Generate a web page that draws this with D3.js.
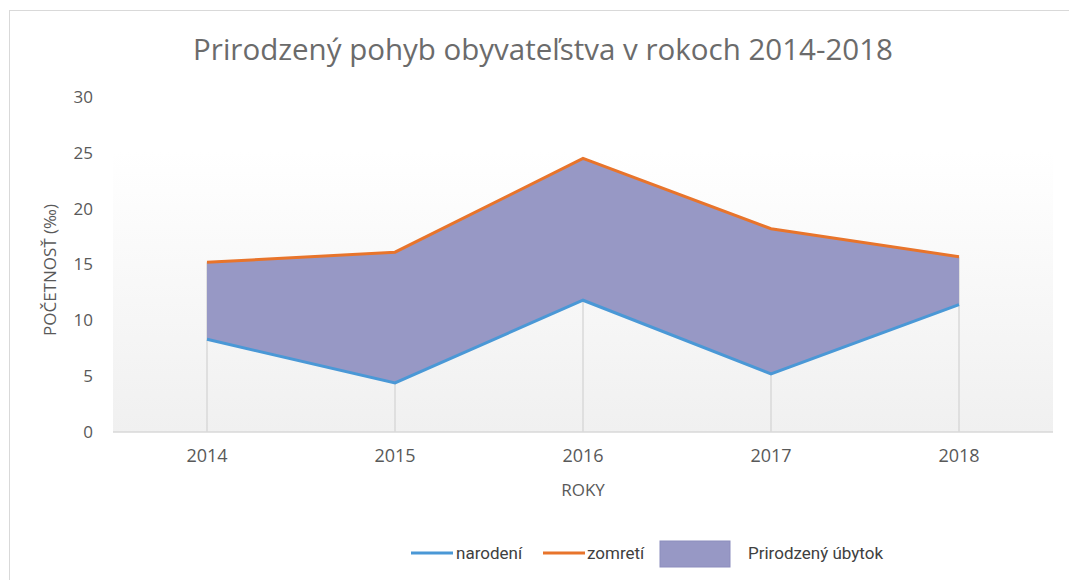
<!DOCTYPE html>
<html>
<head>
<meta charset="utf-8">
<script src="https://cdn.jsdelivr.net/npm/d3@7"></script>
<style>
    body { margin: 0; background: #fff; }
    svg { display: block; }
</style>
</head>
<body>
<svg width="1069" height="580"></svg>
<script>
const years = ["2014", "2015", "2016", "2017", "2018"];
const narodeni = [8.3, 4.4, 11.8, 5.2, 11.4];
const zomreti = [15.2, 16.1, 24.5, 18.2, 15.7];
const yTicks = [0, 5, 10, 15, 20, 25, 30];

const width = 1069;
const height = 580;
const plot = { left: 113, right: 1053, top: 97, bottom: 432 };

const svg = d3.select("svg")
    .attr("width", width)
    .attr("height", height)
    .style("font-family", "'Open Sans', sans-serif");

const data = years.map((y, i) => ({ year: y, n: narodeni[i], z: zomreti[i] }));

const x = d3.scaleBand()
    .domain(years)
    .range([plot.left, plot.right]);

const y = d3.scaleLinear()
    .domain([0, 30])
    .range([plot.bottom, plot.top]);

const cx = d => x(d.year) + x.bandwidth() / 2;

// chart frame
svg.append("rect")
    .attr("x", 9.5).attr("y", 10.5)
    .attr("width", 1080).attr("height", 600)
    .style("fill", "#fff")
    .style("stroke", "#d9d9d9");

// plot background gradient
const grad = svg.append("defs").append("linearGradient")
    .attr("id", "bg").attr("x1", 0).attr("x2", 0).attr("y1", 0).attr("y2", 1);
grad.append("stop").attr("offset", "0%").attr("stop-color", "#ffffff");
grad.append("stop").attr("offset", "100%").attr("stop-color", "#f0f0f0");

svg.append("rect")
    .attr("x", plot.left).attr("y", y(30) + 55)
    .attr("width", plot.right - plot.left)
    .attr("height", plot.bottom - y(30) - 55)
    .style("fill", "url(#bg)");

// drop lines
svg.append("g").selectAll("line")
    .data(data)
    .join("line")
    .attr("x1", cx).attr("x2", cx)
    .attr("y1", y(0)).attr("y2", d => y(d.z))
    .style("stroke", "#d9d9d9")
    .style("stroke-width", 1.5);

// area between births and deaths
const area = d3.area()
    .x(cx)
    .y0(d => y(d.n))
    .y1(d => y(d.z));

svg.append("path")
    .datum(data)
    .attr("d", area)
    .style("fill", "#9798c5");

// bottom axis line
svg.append("line")
    .attr("x1", plot.left).attr("x2", plot.right)
    .attr("y1", y(0)).attr("y2", y(0))
    .style("stroke", "#d9d9d9")
    .style("stroke-width", 1.5);

const lineN = d3.line().x(cx).y(d => y(d.n));
const lineZ = d3.line().x(cx).y(d => y(d.z));

svg.append("path")
    .datum(data)
    .attr("d", lineN)
    .style("fill", "none")
    .style("stroke", "#4a98d6")
    .style("stroke-width", 3);

svg.append("path")
    .datum(data)
    .attr("d", lineZ)
    .style("fill", "none")
    .style("stroke", "#e8742b")
    .style("stroke-width", 3);

// y axis labels
const yAxis = svg.append("g")
    .attr("transform", `translate(${plot.left - 20},0)`)
    .call(d3.axisLeft(y).tickValues(yTicks).tickSize(0).tickPadding(0));
yAxis.select(".domain").remove();
yAxis.selectAll("text")
    .style("font-size", "17px")
    .style("font-family", "'Open Sans', sans-serif")
    .style("fill", "#595959");

// x axis labels
const xAxis = svg.append("g")
    .attr("transform", `translate(0,${plot.bottom + 17})`)
    .call(d3.axisBottom(x).tickSize(0).tickPadding(0));
xAxis.select(".domain").remove();
xAxis.selectAll("text")
    .style("font-size", "18px")
    .style("font-family", "'Open Sans', sans-serif")
    .style("fill", "#595959");

// titles
svg.append("text")
    .text("Prirodzený pohyb obyvateľstva v rokoch 2014-2018")
    .attr("x", 543).attr("y", 60)
    .attr("text-anchor", "middle")
    .style("font-size", "29.5px")
    .style("fill", "#6b6b6b");

svg.append("text")
    .text("ROKY")
    .attr("x", (plot.left + plot.right) / 2).attr("y", 496)
    .attr("text-anchor", "middle")
    .style("font-size", "17px")
    .style("fill", "#595959");

svg.append("text")
    .text("POČETNOSŤ (‰)")
    .attr("transform", "translate(56,270) rotate(-90)")
    .attr("text-anchor", "middle")
    .style("font-size", "17px")
    .style("fill", "#595959");

// legend
const legend = svg.append("g").style("font-family", "Roboto, sans-serif");
legend.append("line").attr("x1", 411).attr("x2", 453).attr("y1", 553).attr("y2", 553)
    .style("stroke", "#4a98d6").style("stroke-width", 3);
legend.append("text").attr("x", 456).attr("y", 559).text("narodení")
    .style("font-size", "17px").style("fill", "#404040");
legend.append("line").attr("x1", 543).attr("x2", 585).attr("y1", 553).attr("y2", 553)
    .style("stroke", "#e8742b").style("stroke-width", 3);
legend.append("text").attr("x", 587).attr("y", 559).text("zomretí")
    .style("font-size", "17px").style("fill", "#404040");
legend.append("rect").attr("x", 660).attr("y", 541).attr("width", 70).attr("height", 26)
    .style("fill", "#9798c5").style("stroke", "#8c8dbd");
legend.append("text").attr("x", 748).attr("y", 559).text("Prirodzený úbytok")
    .style("font-size", "17px").style("fill", "#404040");
</script>
</body>
</html>
